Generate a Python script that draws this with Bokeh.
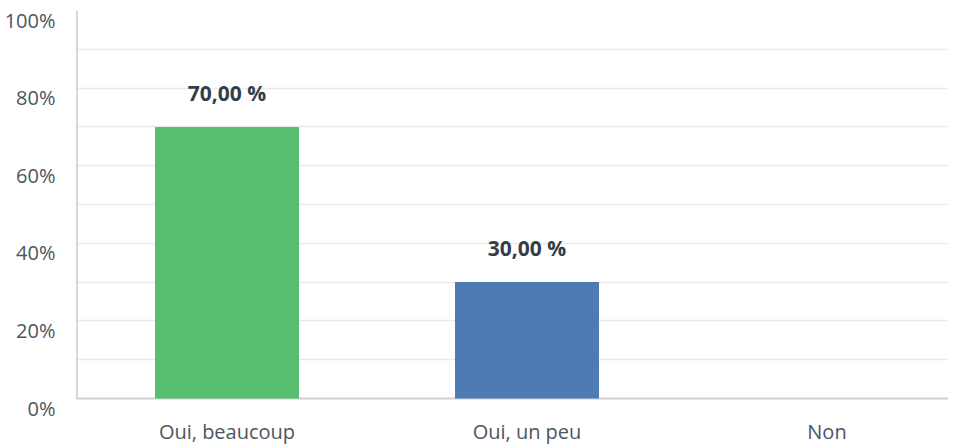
from bokeh.plotting import figure
from bokeh.models import ColumnDataSource, FixedTicker, Range1d, Grid, LinearAxis
from bokeh.core.properties import value
from bokeh.embed import file_html
from bokeh.resources import INLINE

categories = ["Oui, beaucoup", "Oui, un peu", "Non"]
percentages = [70.0, 30.0, 0.0]
bar_colors = ["#58BF70", "#4F7BB5", "#9DA3A9"]
y_tick_values = [0, 20, 40, 60, 80, 100]
y_tick_labels = ["0%", "20%", "40%", "60%", "80%", "100%"]
grid_values = [10, 20, 30, 40, 50, 60, 70, 80, 90]

x_pos = [i + 0.5 for i in range(len(categories))]
labels = [("%.2f %%" % v).replace(".", ",") if v > 0 else "" for v in percentages]

src = ColumnDataSource(dict(x=x_pos, top=percentages, color=bar_colors, label=labels))

PX_PER_UNIT = 3.88          # 388 px for 0..100 %
EXTRA_PX = 10               # frame continues 10 px below the baseline
y_start = -EXTRA_PX / PX_PER_UNIT

p = figure(frame_width=873, frame_height=388 + EXTRA_PX, output_backend="svg", toolbar_location=None,
           x_range=Range1d(-0.005, 2.905), y_range=Range1d(y_start, 100),
           min_border_left=75, min_border_right=5, min_border_top=10, min_border_bottom=0)
p.outline_line_color = None
p.xgrid.visible = False
p.ygrid.visible = False
p.axis.visible = False

p.add_layout(Grid(dimension=1, ticker=FixedTicker(ticks=grid_values),
                  grid_line_color="#EAEAEA", grid_line_width=1.5))
# baseline at 0 %
p.add_layout(Grid(dimension=1, ticker=FixedTicker(ticks=[y_tick_values[0]]),
                  grid_line_color="#D0D0D0", grid_line_width=2))
# vertical axis line from 0 % to 100 %
p.segment(x0=[0], y0=[y_tick_values[0]], x1=[0], y1=[y_tick_values[-1]],
          line_color="#D6D6D6", line_width=2)

p.vbar(x="x", top="top", bottom=0, width=0.48, fill_color="color", line_color=None, source=src)

p.text(x="x", y="top", text="label", source=src, y_offset=-34,
       text_align="center", text_baseline="middle",
       text_font=value("Open Sans"), text_font_style="bold",
       text_font_size="21px", text_color="#333E48")

# y tick labels sit ~9.5 px below their gridlines
shift = 9.5 / PX_PER_UNIT
tick_pos = [v - shift for v in y_tick_values]
yax = LinearAxis(ticker=FixedTicker(ticks=tick_pos),
                 major_label_overrides={t: s for t, s in zip(tick_pos, y_tick_labels)},
                 axis_line_color=None, major_tick_line_color=None, minor_tick_line_color=None,
                 major_label_standoff=14, major_label_text_font="Open Sans",
                 major_label_text_font_size="20px", major_label_text_color="#4B5660")
p.add_layout(yax, "left")

xax = LinearAxis(ticker=FixedTicker(ticks=x_pos),
                 major_label_overrides={x: c for x, c in zip(x_pos, categories)},
                 axis_line_color=None,
                 major_tick_line_color=None, minor_tick_line_color=None,
                 major_label_standoff=3, major_label_text_font="Open Sans",
                 major_label_text_font_size="20px", major_label_text_color="#4B5660")
p.add_layout(xax, "below")

open("out.html", "w").write(file_html(p, INLINE))
